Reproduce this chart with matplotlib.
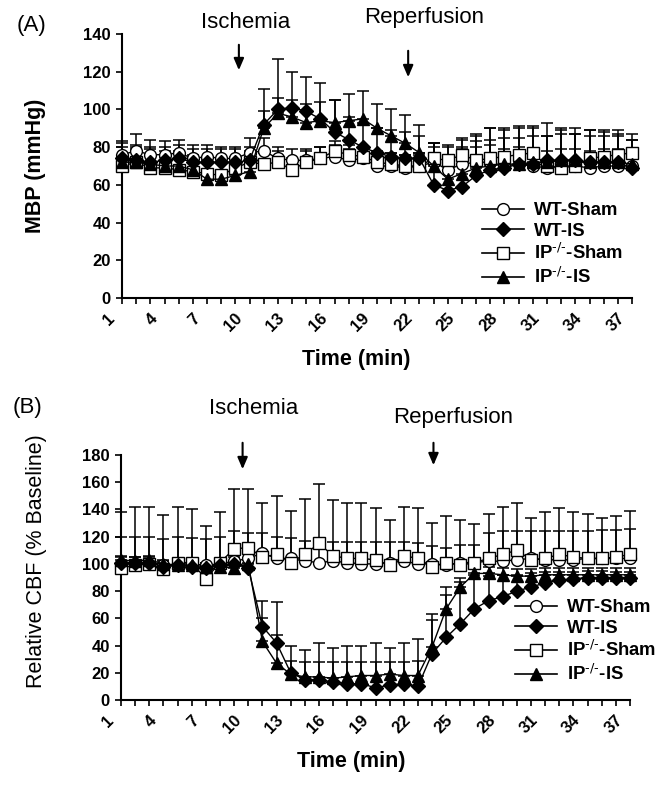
import matplotlib
matplotlib.use('Agg')
import matplotlib.pyplot as plt
from matplotlib.lines import Line2D
from matplotlib.transforms import ScaledTranslation
import numpy as np

plt.rcParams['font.family'] = ['Liberation Sans', 'DejaVu Sans']
plt.rcParams['mathtext.default'] = 'regular'

W, H = 662, 785

time_min = list(range(1, 38))
tick_labels = [str(t) if (t - 1) % 3 == 0 else '' for t in time_min]
series_names = ['WT-Sham', 'WT-IS', r'IP$^{\text{-/-}}$-Sham', r'IP$^{\text{-/-}}$-IS']

# (A) mean blood pressure, mmHg  (error = upper SEM bar)
mbp_wt_sham = [76, 78, 76, 76, 77, 74, 75, 74, 74, 77, 78, 74, 73, 73, 74, 75, 73, 74, 70, 70, 69, 70, 72,
               68, 71, 72, 72, 70, 71, 70, 69, 70, 70, 69, 70, 70, 70]
mbp_wt_sham_err = [7, 9, 8, 7, 7, 7, 6, 6, 6, 8, 7, 6, 6, 6, 6, 6, 6, 6, 7, 7, 7, 7, 8,
                   8, 8, 8, 9, 9, 9, 9, 9, 9, 9, 9, 9, 9, 8]
mbp_wt_is = [74, 73, 72, 73, 74, 72, 72, 72, 72, 73, 92, 100, 101, 99, 95, 88, 84, 80, 77, 75, 74, 74, 60,
             57, 59, 65, 68, 69, 71, 71, 73, 73, 73, 72, 72, 72, 69]
mbp_wt_is_err = [8, 8, 8, 7, 7, 7, 7, 7, 7, 7, 19, 27, 19, 18, 19, 17, 12, 13, 13, 14, 14, 12, 22,
                 23, 25, 21, 22, 20, 19, 19, 20, 17, 17, 17, 16, 15, 15]
mbp_ip_sham = [70, 72, 69, 69, 68, 67, 66, 65, 69, 72, 71, 72, 68, 72, 74, 78, 76, 75, 72, 71, 70, 70, 74,
               73, 76, 73, 74, 75, 76, 77, 70, 69, 70, 74, 75, 76, 77]
mbp_ip_sham_err = [6, 7, 7, 6, 6, 6, 7, 7, 6, 6, 6, 6, 6, 6, 6, 5, 5, 5, 6, 6, 6, 6, 8,
                   8, 9, 14, 16, 15, 15, 14, 16, 20, 17, 15, 14, 13, 10]
mbp_ip_is = [72, 72, 71, 70, 70, 68, 63, 63, 65, 67, 90, 98, 96, 93, 94, 93, 94, 95, 90, 86, 82, 77, 70,
             63, 66, 69, 70, 71, 71, 72, 72, 73, 73, 72, 72, 72, 71]
mbp_ip_is_err = [8, 8, 8, 8, 8, 8, 9, 9, 9, 8, 9, 8, 9, 10, 10, 12, 14, 15, 13, 14, 15, 15, 12,
                 12, 14, 14, 14, 14, 14, 14, 14, 14, 14, 14, 14, 14, 13]

# (B) relative cerebral blood flow, % baseline
cbf_wt_sham = [100, 100, 100, 99, 100, 100, 99, 100, 102, 104, 108, 104, 104, 102, 101, 102, 101, 100, 100,
               101, 102, 100, 100, 99, 101, 101, 102, 102, 103, 104, 103, 103, 103, 104, 104, 104, 104]
cbf_wt_sham_err = [20, 20, 20, 19, 20, 19, 19, 20, 22, 19, 15, 16, 15, 15, 14, 14, 15, 16, 16,
                   15, 14, 15, 13, 13, 13, 13, 21, 22, 21, 20, 21, 21, 21, 20, 21, 21, 22]
cbf_wt_is = [101, 101, 101, 98, 99, 98, 97, 99, 100, 97, 54, 42, 20, 15, 15, 13, 12, 12, 9,
             11, 12, 10, 34, 46, 56, 67, 73, 76, 80, 83, 86, 88, 89, 90, 90, 90, 90]
cbf_wt_is_err = [4, 4, 4, 4, 4, 4, 4, 4, 5, 4, 19, 30, 20, 22, 27, 25, 28, 28, 33,
                 27, 30, 35, 29, 31, 31, 25, 18, 16, 12, 10, 8, 6, 5, 5, 5, 4, 4]
cbf_ip_sham = [97, 99, 100, 96, 101, 101, 89, 101, 111, 112, 105, 107, 101, 107, 115, 106, 104, 104, 103,
               99, 106, 104, 98, 101, 99, 101, 104, 107, 110, 103, 104, 107, 105, 104, 104, 105, 107]
cbf_ip_sham_err = [41, 43, 42, 40, 41, 39, 39, 37, 44, 43, 40, 43, 38, 41, 44, 41, 41, 41, 38,
                   33, 36, 37, 32, 34, 33, 28, 33, 35, 35, 31, 34, 34, 33, 33, 30, 30, 32]
cbf_ip_is = [103, 102, 103, 100, 99, 99, 98, 98, 97, 100, 43, 27, 19, 17, 17, 16, 17, 18, 18,
             19, 18, 18, 39, 67, 83, 93, 93, 92, 91, 91, 92, 92, 92, 92, 92, 92, 92]
cbf_ip_is_err = [3, 3, 3, 3, 3, 3, 3, 3, 3, 3, 17, 21, 10, 11, 11, 12, 11, 10, 10,
                 9, 10, 11, 20, 16, 7, 5, 5, 5, 5, 5, 5, 5, 5, 5, 5, 5, 5]

# marker style per series: marker, face, size, draw order
styles = [('o', 'white', 8.5, 4), ('D', 'black', 6.8, 7), ('s', 'white', 8, 5), ('^', 'black', 8.5, 6)]


def fx(px):
    return px / W


def fy(py):
    return 1 - py / H


def draw_panel(ax, series, errs, ymax, ystep):
    for vals, err in zip(series, errs):
        ax.errorbar(time_min, vals, yerr=[np.zeros(len(err)), err], fmt='none', ecolor='black',
                    elinewidth=1.1, capsize=4, capthick=1.1, clip_on=False, zorder=2)
    for vals, (mk, face, ms, z) in zip(series, styles):
        ax.plot(time_min, vals, color='black', lw=1.0, marker=mk, ms=ms, mfc=face, mec='black',
                mew=1.0, clip_on=False, zorder=z)
    ax.set_xlim(1, 37)
    ax.set_ylim(0, ymax)
    ax.set_yticks(np.arange(0, ymax + 1, ystep))
    ax.set_xticks(time_min)
    ax.set_xticklabels(tick_labels, rotation=45, ha='right', va='center', rotation_mode='anchor')
    for s in ['top', 'right']:
        ax.spines[s].set_visible(False)
    for s in ['left', 'bottom']:
        ax.spines[s].set_linewidth(1.5)
    ax.tick_params(axis='x', direction='out', length=4, width=1.2, pad=9, labelsize=12)
    ax.tick_params(axis='y', direction='out', length=4, width=1.2, pad=4, labelsize=12)
    for lbl in ax.get_xticklabels() + ax.get_yticklabels():
        lbl.set_fontweight('bold')
    for lbl in ax.get_xticklabels():
        lbl.set_transform(lbl.get_transform() + ScaledTranslation(-7 / 72, 0, fig.dpi_scale_trans))


def add_legend(ax, x_px, y_px):
    handles = [Line2D([], [], color='black', lw=1.2, marker=mk, ms=ms, mfc=face, mec='black')
               for mk, face, ms, z in styles]
    ax.legend(handles, series_names, loc='upper left', bbox_to_anchor=(fx(x_px), fy(y_px)),
              bbox_transform=fig.transFigure, frameon=False, borderpad=0, borderaxespad=0,
              handlelength=2.3, handletextpad=0.5, labelspacing=0.2,
              prop=dict(weight='bold', size=13.3))


def add_arrow(ax, t, y0, y1, text, text_y, text_x_px):
    ax.annotate('', xy=(t, fy(y1)), xytext=(t, fy(y0)), xycoords=('data', 'figure fraction'),
                textcoords=('data', 'figure fraction'),
                arrowprops=dict(arrowstyle='-|>,head_length=0.7,head_width=0.3', color='black', lw=1.5),
                annotation_clip=False)
    fig.text(fx(text_x_px), fy(text_y), text, ha='center', va='center', fontsize=16)


fig = plt.figure(figsize=(W / 100, H / 100), dpi=100)
axA = fig.add_axes([fx(122), fy(298), 510 / W, 264 / H])
axB = fig.add_axes([fx(121), fy(700), 509 / W, 245 / H])

draw_panel(axA, [mbp_wt_sham, mbp_wt_is, mbp_ip_sham, mbp_ip_is],
           [mbp_wt_sham_err, mbp_wt_is_err, mbp_ip_sham_err, mbp_ip_is_err], 140, 20)
draw_panel(axB, [cbf_wt_sham, cbf_wt_is, cbf_ip_sham, cbf_ip_is],
           [cbf_wt_sham_err, cbf_wt_is_err, cbf_ip_sham_err, cbf_ip_is_err], 180, 20)

add_legend(axA, 482, 202)
add_legend(axB, 515, 599)

add_arrow(axA, 9.25, 42, 73, 'Ischemia', 22, 246)
add_arrow(axA, 21.2, 48, 80, 'Reperfusion', 18, 424)
add_arrow(axB, 9.6, 440, 472, 'Ischemia', 408, 254)
add_arrow(axB, 23.1, 440, 468, 'Reperfusion', 418, 453)

fig.text(fx(32), fy(25), '(A)', ha='center', va='center', fontsize=16)
fig.text(fx(27), fy(407), '(B)', ha='center', va='center', fontsize=16)

fig.text(fx(36), fy(166), 'MBP (mmHg)', rotation=90, ha='center', va='center', fontsize=15.5,
         fontweight='bold')
fig.text(fx(37), fy(561), 'Relative CBF (% Baseline)', rotation=90, ha='center', va='center',
         fontsize=15.5)
fig.text(fx(356), fy(360), 'Time (min)', ha='center', va='center', fontsize=15.5, fontweight='bold')
fig.text(fx(351), fy(762), 'Time (min)', ha='center', va='center', fontsize=15.5, fontweight='bold')

fig.savefig('out.png', dpi=100)
